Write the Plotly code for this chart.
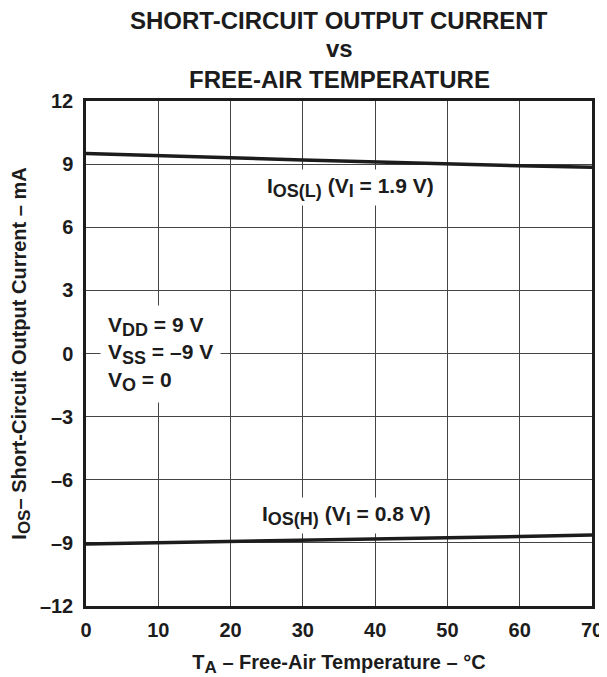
import plotly.graph_objects as go

# Data
temp_c = [0, 10, 20, 30, 40, 50, 60, 70]
ios_low = [9.50, 9.42, 9.30, 9.20, 9.10, 9.00, 8.92, 8.85]      # I_OS(L), V_I = 1.9 V
ios_high = [-9.05, -9.00, -8.95, -8.88, -8.82, -8.76, -8.70, -8.63]  # I_OS(H), V_I = 0.8 V

x_ticks = [0, 10, 20, 30, 40, 50, 60, 70]
y_ticks = [-12, -9, -6, -3, 0, 3, 6, 9, 12]
y_tick_text = ["–12", "–9", "–6", "–3", "0", "3", "6", "9", "12"]

FONT = "Liberation Sans, Arial, sans-serif"
INK = "#1c1c1c"

fig = go.Figure()
fig.add_trace(go.Scatter(x=temp_c, y=ios_low, mode="lines",
                         line=dict(color=INK, width=3.5), showlegend=False))
fig.add_trace(go.Scatter(x=temp_c, y=ios_high, mode="lines",
                         line=dict(color=INK, width=3.5), showlegend=False))

sub = lambda s, fs=17: f"<sub><span style='font-size:{fs}px'>{s}</span></sub>"

annots = [
    dict(text="<b>SHORT-CIRCUIT OUTPUT CURRENT</b>", xref="paper", yref="paper",
         x=0.5, y=1.1594, xanchor="center", yanchor="middle", showarrow=False,
         font=dict(size=24, family=FONT, color=INK)),
    dict(text="<b>vs</b>", xref="paper", yref="paper",
         x=0.5, y=1.1046, xanchor="center", yanchor="middle", showarrow=False,
         font=dict(size=24, family=FONT, color=INK)),
    dict(text="<b>FREE-AIR TEMPERATURE</b>", xref="paper", yref="paper",
         x=0.5, y=1.0416, xanchor="center", yanchor="middle", showarrow=False,
         font=dict(size=24, family=FONT, color=INK)),
    dict(text=f"<b>I{sub('OS(L)', 18)} (V{sub('I', 18)} = 1.9 V)</b>", xref="x", yref="y",
         x=36.6, y=7.9, xanchor="center", yanchor="middle", showarrow=False,
         bgcolor="white", borderpad=4,
         font=dict(size=21, family=FONT, color=INK)),
    dict(text=f"<b>I{sub('OS(H)', 18)} (V{sub('I', 18)} = 0.8 V)</b>", xref="x", yref="y",
         x=36, y=-7.7, xanchor="center", yanchor="middle", showarrow=False,
         bgcolor="white", borderpad=4,
         font=dict(size=21, family=FONT, color=INK)),
    dict(text=(f"<b>V{sub('DD', 18)} = 9 V<br>V{sub('SS', 18)} = –9 V<br>V{sub('O', 18)} = 0</b>"),
         xref="x", yref="y", x=2, y=0, xanchor="left", yanchor="middle",
         align="left", showarrow=False, bgcolor="white", borderpad=7,
         font=dict(size=21, family=FONT, color=INK)),
]

# The page body has an 8px default margin, so the figure is sized to fit the window.
fig.update_layout(
    width=599, height=669,
    margin=dict(l=78, r=15, t=93, b=71, autoexpand=False),
    paper_bgcolor="white", plot_bgcolor="white",
    annotations=annots,
    font=dict(family=FONT, color=INK),
)

fig.update_xaxes(
    range=[0, 70], tickvals=x_ticks, ticks="", ticklabelstandoff=4,
    tickfont=dict(size=20, family=FONT, color=INK, weight="bold"),
    showgrid=True, gridcolor="#444444", gridwidth=1.2, automargin=False,
    showline=True, linecolor=INK, linewidth=2.5, mirror=True, zeroline=False,
    title=dict(text="<b>T<sub><span style='font-size:17px'>A</span></sub> – Free-Air Temperature – °C</b>",
               font=dict(size=20, family=FONT, color=INK), standoff=22),
)
fig.update_yaxes(
    range=[-12, 12], tickvals=y_ticks, ticktext=y_tick_text, ticks="",
    ticklabelstandoff=6, automargin=False,
    tickfont=dict(size=20, family=FONT, color=INK, weight="bold"),
    showgrid=True, gridcolor="#444444", gridwidth=1.2,
    showline=True, linecolor=INK, linewidth=2.5, mirror=True, zeroline=False,
    title=dict(text="<b>I<sub><span style='font-size:17px'>OS</span></sub>– Short-Circuit Output Current – mA</b>",
               font=dict(size=20, family=FONT, color=INK), standoff=14),
)

fig.write_html("out.html")
